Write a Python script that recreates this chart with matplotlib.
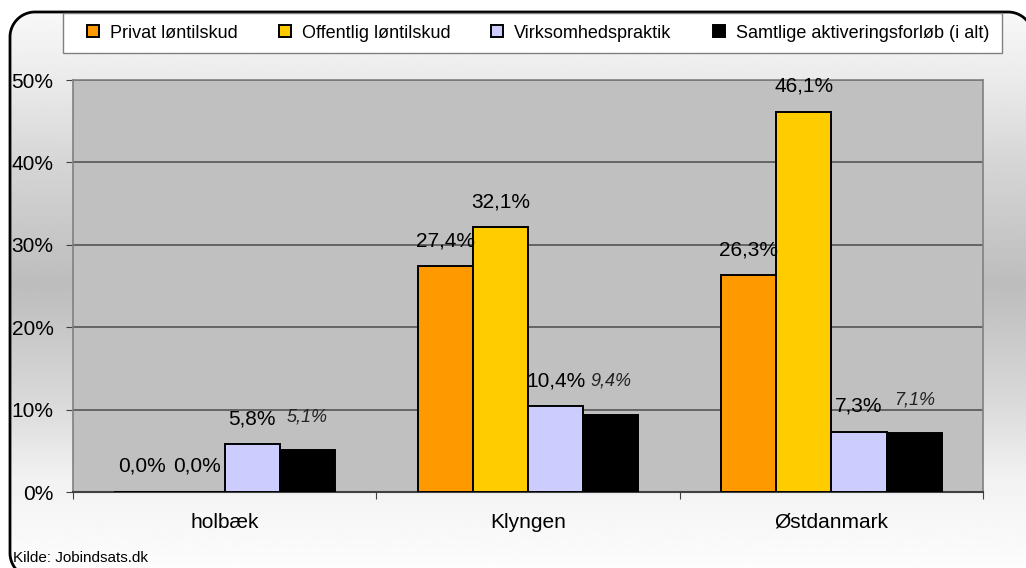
import numpy as np
import matplotlib
matplotlib.use("Agg")
import matplotlib.pyplot as plt
from matplotlib.patches import Polygon, Rectangle

plt.rcParams["font.family"] = ["Liberation Sans", "DejaVu Sans"]

# Data
categories = ["holbæk", "Klyngen", "Østdanmark"]
series_names = ["Privat løntilskud", "Offentlig løntilskud",
                "Virksomhedspraktik", "Samtlige aktiveringsforløb (i alt)"]
privat = [0.0, 27.4, 26.3]
offentlig = [0.0, 32.1, 46.1]
virksomhed = [5.8, 10.4, 7.3]
samtlige = [5.1, 9.4, 7.1]
y_ticks = [0, 10, 20, 30, 40, 50]
source_text = "Kilde: Jobindsats.dk"

series = [privat, offentlig, virksomhed, samtlige]
colors = ["#FF9900", "#FFCC00", "#CCCCFF", "#000000"]

W, H = 1026, 568
fig = plt.figure(figsize=(W / 100, H / 100), dpi=100)
fig.patch.set_facecolor("white")

# Background: rounded box with vertical grey gradient (pixel coords, y up)
bg = fig.add_axes([0, 0, 1, 1], zorder=0)
bg.set_autoscale_on(False)
bg.axis("off")
yy = np.linspace(0, H, 400)  # distance from top
shade = np.interp(yy, [0, 80, 160, 285, 400, 480, H],
                  [0.98, 0.92, 0.84, 0.74, 0.85, 0.95, 0.99])
grad = np.tile(shade[:, None], (1, 2))
img = bg.imshow(grad, extent=[0, W, 0, H], origin="upper", cmap="gray",
                vmin=0, vmax=1, aspect="auto", interpolation="bilinear")

# rounded outline built from straight segments
r = 25
left, right, top, bottom = 10, 1033, H - 12, H - 578
corners = [((right - r, top - r), 0, 90), ((left + r, top - r), 90, 180),
           ((left + r, bottom + r), 180, 270), ((right - r, bottom + r), 270, 360)]
verts = []
for (cx, cy), a0, a1 in corners:
    t = np.radians(np.linspace(a0, a1, 30))
    verts += list(zip(cx + r * np.cos(t), cy + r * np.sin(t)))
box = Polygon(verts, closed=True, transform=bg.transData, facecolor="none",
              edgecolor="black", lw=2, clip_on=False)
bg.add_patch(box)
img.set_clip_path(box)

# Legend frame
frame = Rectangle((63, H - 53), 939, 40, transform=bg.transData, facecolor="white",
                  edgecolor="#808080", lw=1.0, zorder=4, clip_on=False)
bg.add_patch(frame)
bg.set_xlim(0, W)
bg.set_ylim(0, H)

# Main plot
ax = fig.add_axes([73 / W, 1 - 492 / H, 910 / W, 412 / H], zorder=2)
ax.set_facecolor("#C0C0C0")

x = np.arange(len(categories))
w = 0.182
for i, (vals, col) in enumerate(zip(series, colors)):
    pos = x + (i - 1.5) * w
    ax.bar(pos, vals, width=w, color=col, edgecolor="black", lw=1.4,
           label=series_names[i], zorder=3)
    for px, v in zip(pos, vals):
        txt = f"{v:.1f}%".replace(".", ",")
        if i == 3:
            ax.annotate(txt, (px, v), xytext=(0, 24), textcoords="offset points",
                        ha="center", va="center", fontsize=13, style="italic",
                        color="#222222", zorder=4)
        else:
            ax.annotate(txt, (px, v), xytext=(0, 18.5), textcoords="offset points",
                        ha="center", va="center", fontsize=15, color="black",
                        zorder=4)

ax.set_xlim(-0.5, len(categories) - 0.5)
ax.set_ylim(0, 50)
ax.set_yticks(y_ticks)
ax.set_yticklabels([f"{t}%" for t in y_ticks], fontsize=15)
ax.yaxis.grid(True, color="#555555", lw=1.2)
ax.set_axisbelow(True)

ax.set_xticks(np.arange(-0.5, len(categories)), labels=[""] * (len(categories) + 1))
ax.set_xticks(x, labels=categories, minor=True)
ax.tick_params(axis="x", which="minor", length=0, pad=15, labelsize=15)
ax.tick_params(axis="x", which="major", length=5, direction="out", color="#404040")
ax.tick_params(axis="y", length=5, direction="out", color="#404040", pad=9)

for s in ["left", "right", "top"]:
    ax.spines[s].set_color("#808080")
    ax.spines[s].set_linewidth(1.2)
ax.spines["bottom"].set_color("#404040")
ax.spines["bottom"].set_linewidth(1.5)

# Legend entries spread over the content width
leg = fig.legend(loc="center left", bbox_to_anchor=(87 / W, 1 - 53 / H, 902 / W, 40 / H),
                 mode="expand", ncol=4, fontsize=13, frameon=False,
                 handlelength=0.67, handleheight=0.67, handletextpad=0.6,
                 borderaxespad=0, borderpad=0)
leg.set_zorder(5)

fig.text(13 / W, 1 - 558 / H, source_text, fontsize=11, va="center", ha="left")

fig.savefig("out.png", dpi=100)
